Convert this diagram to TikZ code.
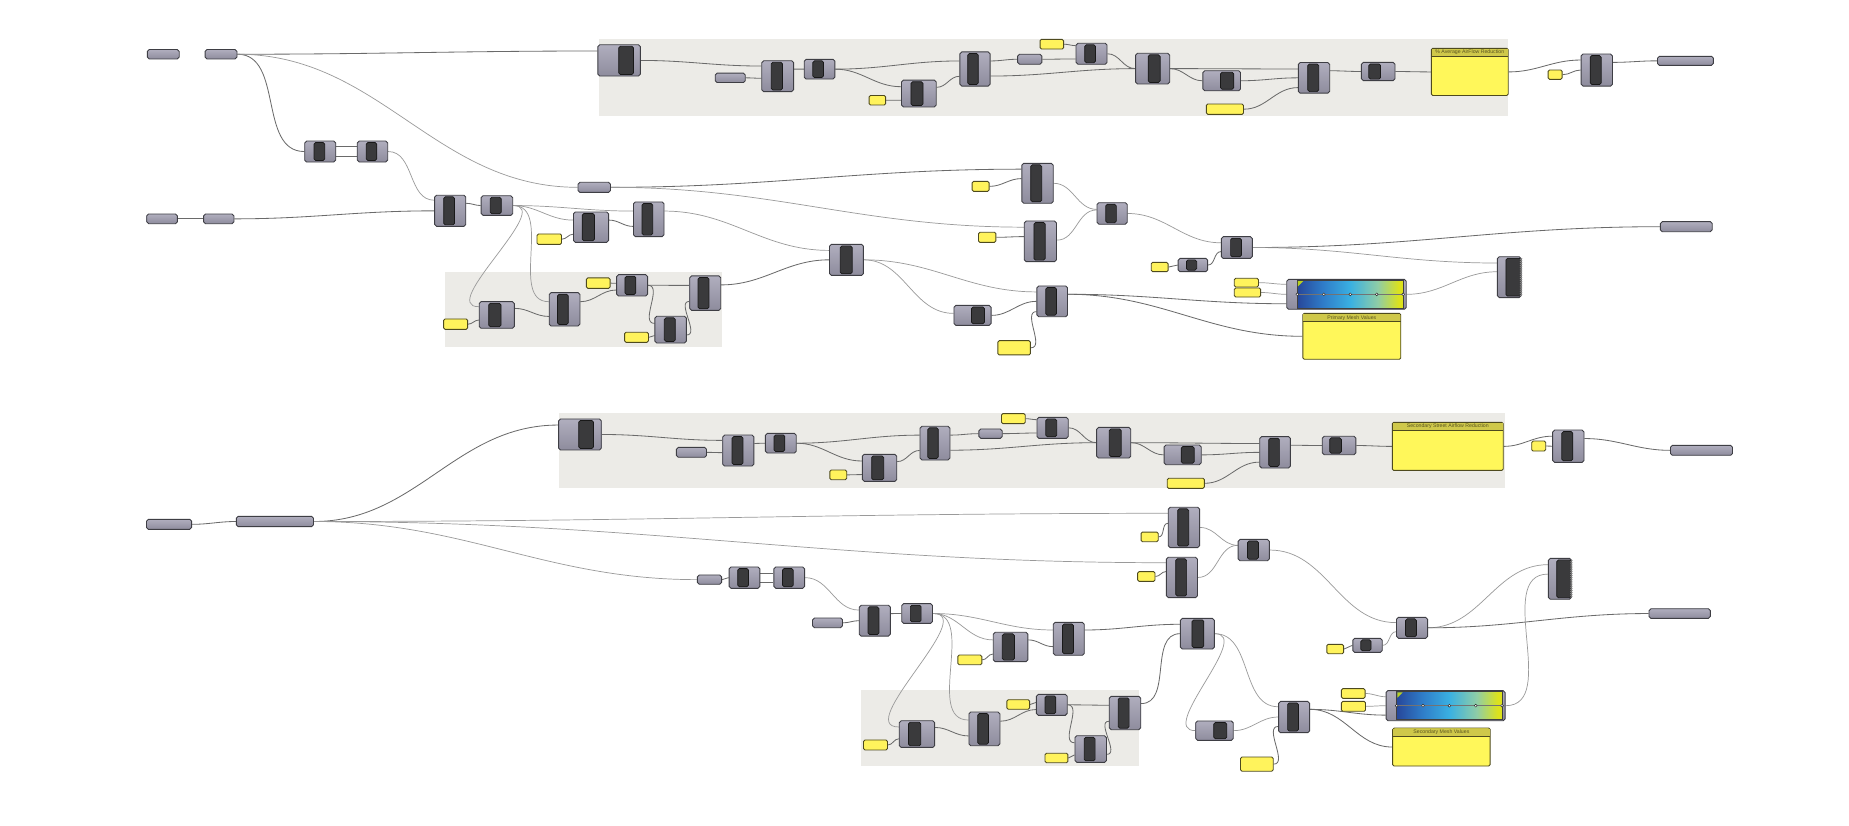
\documentclass[tikz,border=0pt]{standalone}
\usepackage{fontspec}
\setmainfont{Liberation Sans}
\usetikzlibrary{fit,decorations.pathmorphing}
\definecolor{grpc}{HTML}{ECEBE7}
\definecolor{compt}{HTML}{B0AEBE}
\definecolor{compb}{HTML}{8E8C9D}
\definecolor{compline}{HTML}{3E3E44}
\definecolor{barc}{HTML}{3A3A3C}
\definecolor{yfill}{HTML}{FFF35C}
\definecolor{yline}{HTML}{4E4A1E}
\definecolor{pfill}{HTML}{FFF75A}
\definecolor{hdrc}{HTML}{CFC84A}
\definecolor{hdrtext}{HTML}{5A5520}
\definecolor{wirec}{HTML}{6A6A6A}
\definecolor{wirel}{HTML}{9A9A9A}
\definecolor{gA}{HTML}{27479A}
\definecolor{gB}{HTML}{2F7CC8}
\definecolor{gC}{HTML}{3AB0E2}
\definecolor{gD}{HTML}{8FCDA6}
\definecolor{gE}{HTML}{DCE21C}
\definecolor{flagc}{HTML}{B8D020}
\pgfdeclarehorizontalshading{ghgrad}{100bp}{color(0bp)=(gA); color(25bp)=(gA); color(37bp)=(gB); color(50bp)=(gC); color(63bp)=(gD); color(73bp)=(gE); color(100bp)=(gE)}
\pgfdeclarelayer{grp}
\pgfdeclarelayer{bg}
\pgfsetlayers{grp,bg,main}
\tikzset{
  compbox/.style={draw=compline, line width=0.75pt, rounded corners=1.6pt, top color=compt, bottom color=compb, inner sep=0pt},
  barbox/.style={draw=black!90, line width=0.6pt, rounded corners=1.4pt, fill=barc},
  parbox/.style={draw=compline, line width=0.75pt, rounded corners=1.6pt, top color=compt, bottom color=compb, inner sep=0pt},
  ybox/.style={draw=yline, line width=0.75pt, rounded corners=1.2pt, fill=yfill, inner sep=0pt},
  panelbox/.style={draw=yline, line width=0.75pt, rounded corners=1.2pt, fill=pfill, inner sep=0pt},
  wire/.style={draw=wirec, line width=0.7pt},
  fwire/.style={draw=wirel, line width=0.6pt},
  hdrfont/.style={font=\fontsize{4.4}{5}\selectfont, text=hdrtext, inner sep=0pt}
}
\newcommand\gpar[5]{\node[parbox, fit={(#2,#3) (#4,#5)}] (#1) {};}
\newcommand\gyel[5]{\node[ybox, fit={(#2,#3) (#4,#5)}] (#1) {};}
\newcommand\gcmp[6]{%
  \node[compbox, fit={(#2,#3) (#4,#5)}] (#1) {};
  \pgfmathsetmacro\bxa{#2+(#4-#2)*#6}%
  \pgfmathsetmacro\bxb{#2+(#4-#2)*(#6+0.35)}%
  \pgfmathsetmacro\bya{#3+1.3}%
  \pgfmathsetmacro\byb{#5-1.3}%
  \draw[barbox] (\bxa,\bya) rectangle (\bxb,\byb);
}
\newcommand\gjag[5]{%
  \node[compbox, fit={(#2,#3) (#4,#5)}] (#1) {};
  \pgfmathsetmacro\bxa{#2+(#4-#2)*0.36}%
  \pgfmathsetmacro\bya{#3+1.3}%
  \pgfmathsetmacro\byb{#5-1.3}%
  \draw[barbox] (\bxa,\bya) rectangle (#4,\byb);
  \draw[decorate, decoration={zigzag, segment length=1.6pt, amplitude=0.7pt}, black!45, line width=0.5pt] (#4,\bya) -- (#4,\byb);
}
\newcommand\gpanel[7]{%
  \node[panelbox, fit={(#2,#3) (#4,#5)}] (#1) {};
  \fill[hdrc] ({#2+0.4},{#3+0.4}) rectangle ({#4-0.4},#6);
  \draw[yline, line width=0.75pt] (#2,#6) -- (#4,#6);
  \node[hdrfont] (#1t) at ({(#2+#4)/2},{(#3+#6)/2+0.2}) {#7};
}
\newcommand\ggrad[5]{%
  \node[compbox, fit={(#2,#3) (#4,#5)}] (#1) {};
  \pgfmathsetmacro\gxa{#2+9}%
  \pgfmathsetmacro\gxb{#4-2.6}%
  \pgfmathsetmacro\gya{#3+1}%
  \pgfmathsetmacro\gyb{#5-1}%
  \pgfmathsetmacro\gym{(#3+#5)/2}%
  \shade[shading=ghgrad] (\gxa,\gya) rectangle (\gxb,\gyb);
  \draw[black!75, line width=0.6pt] (\gxa,\gya) rectangle (\gxb,\gyb);
  \draw[black!55, line width=0.35pt] (\gxa,\gym) -- (\gxb,\gym);
  \foreach \t in {0,0.25,0.5,0.75,1}{
    \pgfmathsetmacro\gcx{\gxa+(\gxb-\gxa)*\t}
    \draw[fill=white, draw=black!85, line width=0.4pt] (\gcx,\gym) circle (1.2);
  }
  \fill[flagc] ({\gxa+0.5},{\gya+0.5}) -- ({\gxa+5},{\gya+0.5}) -- ({\gxa+0.5},{\gya+5}) -- cycle;
}
\newcommand\wire[3][]{\draw[wire,#1] (#2) to[out=0,in=180] (#3);}
\begin{document}
\begin{tikzpicture}[x=1pt,y=-1pt]
\begin{pgfonlayer}{grp}
\fill[white] (0,0) rectangle (1568,700);
\fill[grpc] (508,33) rectangle (1279,98);
\fill[grpc] (377,231) rectangle (612,294);
\fill[grpc] (474,350) rectangle (1276,414);
\fill[grpc] (730.5,585) rectangle (966.2,650);
\end{pgfonlayer}
\useasboundingbox (0,0) rectangle (1568,700);

% ---------------- top chain
\gpar{P1}{125}{42}{152}{50}
\gpar{P2}{174}{42}{201}{50}
\gcmp{A1}{507}{38}{543}{64.5}{0.49}
\gpar{A2}{606.5}{62}{632}{70}
\gcmp{A3}{646}{51.5}{673}{77.7}{0.3}
\gcmp{A4}{682}{50.3}{708}{67}{0.28}
\gyel{A5}{737}{81}{751}{89}
\gcmp{A6}{764.5}{68}{794}{90.7}{0.27}
\gcmp{A7}{814}{44}{839.6}{73}{0.26}
\gpar{A8}{863}{46}{883.5}{54.5}
\gyel{A9}{882}{33.4}{902}{41.6}
\gcmp{A10}{912.5}{36.7}{938.8}{54.5}{0.28}
\gcmp{A11}{963}{45.2}{992}{71.2}{0.37}
\gcmp{A12}{1020}{60}{1052}{77}{0.47}
\gyel{A13}{1023}{88.2}{1054.5}{97}
\gcmp{A14}{1101}{53}{1127.6}{79}{0.3}
\gcmp{A15}{1154.5}{52.9}{1183}{68.4}{0.22}
\gpanel{A16}{1213.8}{41}{1279}{81}{47.5}{\% Average AirFlow Reduction}
\gyel{A17}{1312.8}{59.4}{1324.7}{67.3}
\gcmp{A18}{1340.8}{45.8}{1367.4}{73}{0.29}
\gpar{A19}{1405.6}{47.8}{1453}{55.4}

% ---------------- primary mesh
\gcmp{B1}{258.4}{119.6}{284.7}{137.4}{0.3}
\gcmp{B2}{303}{119.6}{328.8}{137.4}{0.29}
\gpar{Bp}{490.2}{154.6}{517.7}{163.1}
\gpar{P3}{124.4}{181.5}{150.4}{189.7}
\gpar{P4}{172.7}{181.5}{198.4}{189.7}
\gcmp{C1}{368.6}{165.6}{395}{192}{0.29}
\gcmp{C2}{408}{166}{434.8}{182.6}{0.29}
\gyel{C3}{455.4}{198.4}{476.2}{207.2}
\gcmp{C4}{486.3}{179.8}{516.1}{205.5}{0.25}
\gcmp{C5}{537.2}{171.3}{563.1}{200.7}{0.28}
\gyel{D1}{376.2}{270.5}{396.6}{279.3}
\gcmp{D2}{406.4}{255.8}{436.2}{278.4}{0.27}
\gcmp{D3}{465.8}{248.2}{491.8}{276.5}{0.27}
\gyel{D4}{497.3}{235.7}{517.4}{244.5}
\gcmp{D5}{522.9}{232.9}{549.2}{251}{0.27}
\gcmp{D6}{584.9}{234}{611.2}{263.2}{0.27}
\gyel{D7}{529.7}{281.8}{549.9}{290.3}
\gcmp{D8}{555.4}{268.2}{582}{290.9}{0.3}
\gcmp{E1}{703.4}{207.2}{732.2}{233.5}{0.32}
\gcmp{E2}{809}{259}{840.5}{275.9}{0.47}
\gcmp{E3}{879.3}{242.5}{905.3}{268.6}{0.29}
\gyel{E4}{846.2}{288.9}{873.8}{301}
\gyel{F1}{824.4}{153.8}{838.8}{162.3}
\gcmp{F2}{866.6}{138.5}{893.2}{172.4}{0.28}
\gyel{F3}{829.8}{197}{844.5}{205.5}
\gcmp{F4}{868.6}{187.4}{895.9}{221.9}{0.3}
\gcmp{F5}{930.3}{171.9}{955.9}{190.2}{0.29}
\gcmp{F6}{1035.7}{200.7}{1062}{219.1}{0.3}
\gyel{F7}{976.3}{222.5}{990.6}{230.4}
\gcmp{F8}{999.1}{219.1}{1024.1}{230.4}{0.28}
\gpar{F9}{1408}{188}{1452}{196.5}
\gyel{G1a}{1046.7}{236}{1067.2}{243.4}
\gyel{G1b}{1046.7}{244.2}{1069}{251.9}
\ggrad{G2}{1091.2}{236.9}{1192.5}{262.3}
\gpanel{G3}{1104.8}{265.7}{1187.9}{304.7}{272.8}{Primary Mesh Values}
\gjag{G4}{1269.8}{217.7}{1289.9}{252.4}

% ---------------- secondary chain
\gcmp{H1}{473.7}{355.3}{509.9}{381.6}{0.47}
\gpar{H2}{573.6}{379.4}{599.1}{387.8}
\gcmp{H3}{612.9}{368.9}{639.3}{395.2}{0.3}
\gcmp{H4}{649.1}{367.5}{675.2}{384.2}{0.28}
\gyel{H5}{703.7}{398.6}{718.1}{406.8}
\gcmp{H6}{731.3}{385.3}{760.5}{408.2}{0.27}
\gcmp{H7}{780.2}{361.5}{805.6}{390.1}{0.26}
\gpar{H8}{830.1}{363.8}{849.9}{371.7}
\gyel{H9}{849.3}{350.8}{869.4}{359.3}
\gcmp{H10}{879.4}{353.9}{905.9}{371.7}{0.28}
\gcmp{H11}{930}{362.4}{958.9}{388.4}{0.37}
\gcmp{H12}{987.2}{377.4}{1018.7}{394.1}{0.46}
\gyel{H13}{989.8}{405.6}{1021.3}{414.1}
\gcmp{H14}{1068.3}{370.3}{1094.3}{396.9}{0.29}
\gcmp{H15}{1121.3}{370}{1149.8}{385.6}{0.22}
\gpanel{H16}{1180.7}{358.2}{1274.8}{398.9}{364.9}{Secondary Street Airflow Reduction}
\gyel{H17}{1298.9}{374}{1310.8}{382.5}
\gcmp{H18}{1316.7}{364.7}{1343.3}{392.1}{0.29}
\gpar{H19}{1416.6}{377.7}{1469.2}{386.1}

% ---------------- secondary mesh
\gpar{Q1}{124.2}{440.4}{162.5}{448.9}
\gpar{Q2}{200.4}{437.9}{265.9}{446.6}
\gpar{Q3}{591.4}{487.6}{611.9}{495.5}
\gcmp{Q4}{618.3}{480.8}{644.4}{498.9}{0.28}
\gcmp{Q5}{656.2}{480.8}{682.3}{498.9}{0.28}
\gcmp{R1}{990.7}{430.2}{1017.3}{464.4}{0.3}
\gyel{R1y}{967.7}{451.2}{982.2}{459.4}
\gcmp{R2}{989.1}{472.6}{1015.5}{506.8}{0.3}
\gyel{R2y}{964.7}{484.8}{979.5}{493}
\gcmp{R3}{1050}{457.4}{1076.4}{475.5}{0.3}
\gpar{S0}{689}{524.1}{714.5}{532.3}
\gcmp{S1}{728.7}{513.3}{755.1}{539.4}{0.28}
\gcmp{S2}{764.7}{511.9}{790.8}{528.6}{0.28}
\gyel{S3}{812.3}{555.5}{832.6}{563.7}
\gcmp{S4}{842.3}{536.2}{871.7}{561.1}{0.26}
\gcmp{S5}{893.2}{527.8}{919.5}{555.7}{0.3}
\gcmp{S6}{1001}{524.4}{1029.8}{550.4}{0.34}
\gyel{T1}{732.3}{627.5}{752.6}{636}
\gcmp{T2}{762.6}{611.2}{792.6}{633.8}{0.26}
\gcmp{T3}{821.7}{603.8}{848}{632.4}{0.28}
\gyel{T4}{853.8}{593.4}{873.1}{601.5}
\gcmp{T5}{878.9}{588.8}{905}{606.6}{0.28}
\gcmp{T6}{940.7}{590.5}{967.4}{618.8}{0.28}
\gyel{T7}{886.2}{638.8}{905.6}{646.8}
\gcmp{T8}{911.6}{623.9}{938.3}{646.5}{0.29}
\gcmp{U1}{1014}{611.4}{1045.8}{627.8}{0.48}
\gcmp{U2}{1084.3}{594.8}{1110.6}{621.3}{0.29}
\gyel{U3}{1052}{642}{1079.7}{654}
\gyel{U4}{1125.2}{546.4}{1139.4}{554.4}
\gcmp{U5}{1147.2}{541.3}{1172.2}{553.2}{0.27}
\gcmp{U6}{1184.3}{523.5}{1210.6}{541.3}{0.29}
\gjag{U7}{1313.1}{473.5}{1332.6}{508.2}
\gpar{U8}{1398.4}{516.2}{1450.4}{524.4}
\gyel{V1a}{1137.5}{584}{1157.6}{592.2}
\gyel{V1b}{1137.5}{594.8}{1158}{603.2}
\ggrad{V2}{1175.4}{585.7}{1276.4}{611.2}
\gpanel{V3}{1181}{617.4}{1263.7}{649.6}{624.7}{Secondary Mesh Values}

% ================= wires
\begin{pgfonlayer}{bg}
% top chain
\wire{P2.east}{[yshift=8pt]A1.west}
\wire{A1.east}{[yshift=8.6pt]A3.west}
\wire{A2.east}{[yshift=-1.8pt]A3.west}
\wire{[yshift=6pt]A3.east}{A4.west}
\wire{A4.east}{[yshift=6.8pt]A7.west}
\wire{A4.east}{[yshift=5.8pt]A6.west}
\wire{A5.east}{[yshift=-5.7pt]A6.west}
\wire{[yshift=5.3pt]A6.east}{[yshift=-6.2pt]A7.west}
\wire{[yshift=6.8pt]A7.east}{A8.west}
\wire{A8.east}{[yshift=-4.4pt]A10.west}
\wire{A9.east}{[yshift=6.9pt]A10.west}
\wire{A10.east}{A11.west}
\wire{[yshift=-6pt]A7.east}{A11.west}
\wire{A11.east}{[yshift=7.5pt]A14.west}
\wire{A11.east}{A12.west}
\wire{A12.east}{A14.west}
\wire{A13.east}{[yshift=-8.3pt]A14.west}
\wire{[yshift=6pt]A14.east}{A15.west}
\wire{A15.east}{A16.west}
\wire{A16.east}{[yshift=8.5pt]A18.west}
\wire{A17.east}{A18.west}
\wire{[yshift=6.5pt]A18.east}{A19.west}
% primary mesh
\wire{P2.east}{B1.west}
\wire[fwire]{P2.east}{Bp.west}
\wire{[yshift=4.5pt]B1.east}{[yshift=4.5pt]B2.west}
\wire{[yshift=-4pt]B1.east}{[yshift=-4pt]B2.west}
\wire[fwire]{B2.east}{[yshift=9pt]C1.west}
\wire{P3.east}{P4.west}
\wire{P4.east}{C1.west}
\wire{[yshift=6.4pt]C1.east}{C2.west}
\wire[fwire]{C2.east}{[yshift=6pt]C4.west}
\wire{C3.east}{[yshift=-6pt]C4.west}
\wire[fwire]{C2.east}{[yshift=7pt]C5.west}
\wire{[yshift=6pt]C4.east}{[yshift=-6pt]C5.west}
\wire[fwire]{[yshift=7pt]C5.east}{[yshift=8pt]E1.west}
\wire[fwire]{C2.east}{[yshift=7pt]D2.west}
\wire[fwire]{C2.east}{[yshift=6.5pt]D3.west}
\wire{D1.east}{[yshift=-4.3pt]D2.west}
\wire{[yshift=5.6pt]D2.east}{[yshift=-6pt]D3.west}
\wire{[yshift=6.5pt]D3.east}{[yshift=-4pt]D5.west}
\wire{D4.east}{[yshift=1.7pt]D5.west}
\wire{D5.east}{[yshift=6.6pt]D6.west}
\wire{D5.east}{[yshift=5.3pt]D8.west}
\wire{D7.east}{[yshift=-5pt]D8.west}
\wire{[yshift=-4.5pt]D8.east}{[yshift=-7pt]D6.west}
\wire{[yshift=7pt]D6.east}{E1.west}
\wire[fwire]{E1.east}{[yshift=1.7pt]E2.west}
\wire[fwire]{E1.east}{[yshift=8pt]E3.west}
\wire{E2.east}{E3.west}
\wire{E4.east}{[yshift=-8.7pt]E3.west}
\wire{Bp.east}{[yshift=12pt]F2.west}
\wire{F1.east}{[yshift=4pt]F2.west}
\wire[fwire]{Bp.east}{[yshift=12pt]F4.west}
\wire{F3.east}{[yshift=4pt]F4.west}
\wire[fwire]{F2.east}{[yshift=3.5pt]F5.west}
\wire[fwire]{[yshift=1pt]F4.east}{[yshift=3pt]F5.west}
\wire[fwire]{F5.east}{[yshift=4pt]F6.west}
\wire{F7.east}{F8.west}
\wire{F8.east}{[yshift=-3.5pt]F6.west}
\wire{F6.east}{F9.west}
\wire[fwire]{F6.east}{[yshift=12pt]G4.west}
\wire[fwire]{G2.east}{[yshift=4.6pt]G4.west}
\wire[fwire]{G1a.east}{[yshift=8.5pt]G2.west}
\wire[fwire]{G1b.east}{G2.west}
\wire{[yshift=6pt]E3.east}{[yshift=-8pt]G2.west}
\wire{[yshift=6pt]E3.east}{G3.west}
% secondary chain
\wire{H1.east}{[yshift=8.6pt]H3.west}
\wire{H2.east}{[yshift=-1.8pt]H3.west}
\wire{[yshift=6pt]H3.east}{H4.west}
\wire{H4.east}{[yshift=6.8pt]H7.west}
\wire{H4.east}{[yshift=5.8pt]H6.west}
\wire{H5.east}{[yshift=-5.7pt]H6.west}
\wire{[yshift=5.3pt]H6.east}{[yshift=-6.2pt]H7.west}
\wire{[yshift=6.8pt]H7.east}{H8.west}
\wire{H8.east}{[yshift=-4.4pt]H10.west}
\wire{H9.east}{[yshift=6.9pt]H10.west}
\wire{H10.east}{H11.west}
\wire{[yshift=-6pt]H7.east}{H11.west}
\wire{H11.east}{[yshift=7.5pt]H14.west}
\wire{H11.east}{H12.west}
\wire{H12.east}{H14.west}
\wire{H13.east}{[yshift=-8.3pt]H14.west}
\wire{[yshift=6pt]H14.east}{H15.west}
\wire{H15.east}{H16.west}
\wire{H16.east}{[yshift=8.5pt]H18.west}
\wire{H17.east}{H18.west}
\wire{[yshift=6.5pt]H18.east}{H19.west}
% secondary mesh
\wire{Q1.east}{Q2.west}
\wire{Q2.east}{[yshift=8pt]H1.west}
\wire[fwire]{Q2.east}{[yshift=12pt]R1.west}
\wire[fwire]{Q2.east}{[yshift=12.5pt]R2.west}
\wire[fwire]{Q2.east}{Q3.west}
\wire{R1y.east}{[yshift=3.5pt]R1.west}
\wire{R2y.east}{[yshift=5pt]R2.west}
\wire[fwire]{R1.east}{[yshift=4pt]R3.west}
\wire[fwire]{R2.east}{[yshift=4pt]R3.west}
\wire[fwire]{R3.east}{[yshift=4.4pt]U6.west}
\wire{U4.east}{U5.west}
\wire[fwire]{U5.east}{[yshift=-3.3pt]U6.west}
\wire[fwire]{U6.east}{[yshift=12pt]U7.west}
\wire{U6.east}{U8.west}
\wire[fwire]{V2.east}{[yshift=4pt]U7.west}
\wire{Q3.east}{Q4.west}
\wire{[yshift=4pt]Q4.east}{[yshift=4pt]Q5.west}
\wire{[yshift=-4pt]Q4.east}{[yshift=-4pt]Q5.west}
\wire[fwire]{Q5.east}{[yshift=9pt]S1.west}
\wire{S0.east}{S1.west}
\wire{[yshift=6pt]S1.east}{S2.west}
\wire[fwire]{S2.east}{[yshift=6pt]S4.west}
\wire{S3.east}{[yshift=-6pt]S4.west}
\wire[fwire]{S2.east}{[yshift=7.5pt]S5.west}
\wire{[yshift=6pt]S4.east}{[yshift=-6.6pt]S5.west}
\wire{[yshift=7.5pt]S5.east}{[yshift=8pt]S6.west}
\wire[fwire]{S2.east}{[yshift=6pt]T2.west}
\wire[fwire]{S2.east}{[yshift=7.5pt]T3.west}
\wire{T1.east}{[yshift=-4pt]T2.west}
\wire{[yshift=5.6pt]T2.east}{[yshift=-6pt]T3.west}
\wire{[yshift=6.5pt]T3.east}{[yshift=-4pt]T5.west}
\wire{T4.east}{[yshift=2pt]T5.west}
\wire{T5.east}{[yshift=6.6pt]T6.west}
\wire{T5.east}{[yshift=5.3pt]T8.west}
\wire{T7.east}{[yshift=-5pt]T8.west}
\wire{[yshift=-4.5pt]T8.east}{[yshift=-7pt]T6.west}
\wire{[yshift=8pt]T6.east}{S6.west}
\wire[fwire]{S6.east}{[yshift=8.7pt]U2.west}
\wire[fwire]{S6.east}{U1.west}
\wire[fwire]{U1.east}{U2.west}
\wire{U3.east}{[yshift=-8pt]U2.west}
\wire{[yshift=6.5pt]U2.east}{[yshift=-8pt]V2.west}
\wire{[yshift=6.5pt]U2.east}{V3.west}
\wire[fwire]{V1a.east}{[yshift=7.6pt]V2.west}
\wire[fwire]{V1b.east}{V2.west}
\end{pgfonlayer}
\end{tikzpicture}
\end{document}
